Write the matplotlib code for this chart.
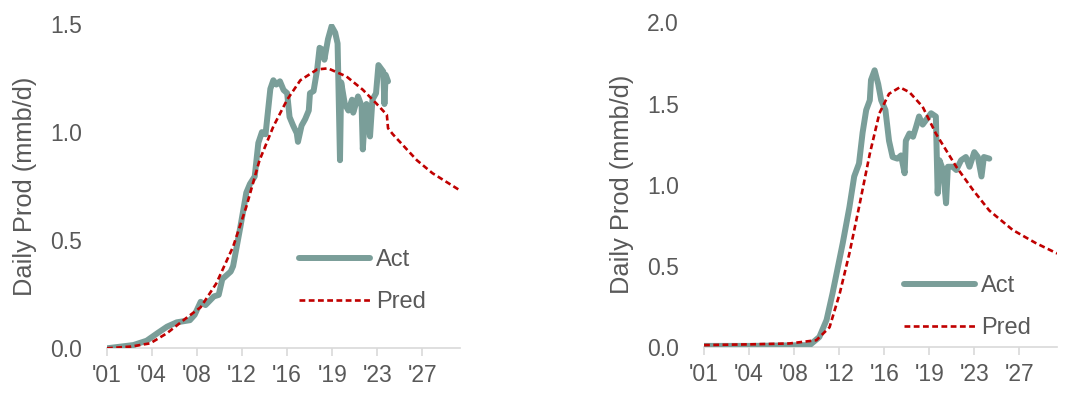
import matplotlib
matplotlib.use("Agg")
import matplotlib.pyplot as plt

# Field A - actual vs predicted daily production (mmb/d)
a_act_year = [2001.0, 2003.2, 2004.3, 2005.2, 2006.0, 2006.8, 2007.9, 2008.3, 2008.8,
              2009.2, 2009.9, 2010.3, 2010.6, 2011.3, 2011.5, 2012.1, 2012.6, 2012.9,
              2013.3, 2013.6, 2013.9, 2014.2, 2014.6, 2014.85, 2015.1, 2015.4, 2015.7,
              2016.0, 2016.2, 2016.5, 2016.8, 2016.9, 2017.2, 2017.5, 2017.8, 2017.9,
              2018.2, 2018.5, 2018.7, 2019.0, 2019.1, 2019.4, 2019.7, 2020.0, 2020.2,
              2020.4, 2020.5, 2020.8, 2021.1, 2021.4, 2021.5, 2021.9, 2022.2, 2022.3,
              2022.5, 2022.6, 2022.9, 2023.1, 2023.4, 2023.6, 2024.0, 2024.1, 2024.2,
              2024.4]
a_act = [0.00, 0.015, 0.035, 0.07, 0.10, 0.12, 0.13, 0.155, 0.215,
         0.20, 0.24, 0.247, 0.32, 0.355, 0.38, 0.56, 0.72, 0.76,
         0.795, 0.95, 1.00, 0.99, 1.20, 1.24, 1.22, 1.235, 1.195,
         1.18, 1.07, 1.03, 0.995, 0.955, 1.03, 1.06, 1.10, 1.18,
         1.19, 1.29, 1.39, 1.38, 1.335, 1.43, 1.49, 1.46, 1.41,
         0.87, 1.23, 1.13, 1.10, 1.15, 1.09, 1.165, 1.12, 0.92,
         1.10, 1.13, 0.98, 1.15, 1.18, 1.31, 1.28, 1.13, 1.265,
         1.235]
a_pred_year = [2001.0, 2003.0, 2004.6, 2006.0, 2007.6, 2008.8, 2010.1, 2011.5, 2012.6,
               2013.7, 2014.85, 2016.0, 2017.1, 2018.5, 2019.4, 2020.95, 2022.3, 2023.4,
               2024.3, 2024.4, 2024.8, 2026.8, 2028.1, 2030.4]
a_pred = [0.0, 0.008, 0.023, 0.07, 0.14, 0.19, 0.30, 0.47, 0.655,
          0.87, 1.026, 1.15, 1.24, 1.29, 1.295, 1.257, 1.196, 1.134,
          1.08, 1.018, 0.99, 0.87, 0.81, 0.73]

# Field B
b_act_year = [2001.0, 2005.0, 2009.8, 2010.6, 2011.2, 2011.7, 2012.55, 2013.1, 2013.5,
              2013.9, 2014.2, 2014.5, 2014.8, 2014.9, 2015.2, 2015.5, 2015.75, 2016.1,
              2016.4, 2016.7, 2017.1, 2017.4, 2017.7, 2017.8, 2018.1, 2018.4, 2018.65,
              2018.9, 2019.2, 2019.5, 2019.9, 2020.3, 2020.45, 2020.6, 2020.9, 2021.15,
              2021.3, 2021.7, 2022.0, 2022.4, 2022.8, 2023.1, 2023.5, 2023.8, 2024.1,
              2024.3, 2024.75]
b_act = [0.005, 0.005, 0.01, 0.06, 0.165, 0.33, 0.64, 0.86, 1.05,
         1.13, 1.32, 1.46, 1.52, 1.645, 1.705, 1.62, 1.52, 1.46,
         1.27, 1.17, 1.16, 1.18, 1.07, 1.27, 1.315, 1.295, 1.355,
         1.42, 1.37, 1.40, 1.44, 1.42, 0.945, 1.15, 1.09, 0.885,
         1.11, 1.11, 1.09, 1.15, 1.17, 1.11, 1.20, 1.17, 1.05,
         1.17, 1.16]
b_pred_year = [2001.0, 2005.0, 2008.1, 2010.35, 2011.45, 2012.3, 2013.1, 2013.9, 2014.8,
               2015.6, 2016.4, 2017.3, 2018.1, 2019.2, 2020.3, 2022.0, 2023.4, 2024.75,
               2026.7, 2028.6, 2030.4]
b_pred = [0.01, 0.015, 0.02, 0.04, 0.12, 0.33, 0.575, 0.86, 1.19,
          1.44, 1.56, 1.60, 1.57, 1.48, 1.315, 1.11, 0.966, 0.84,
          0.72, 0.64, 0.575]

x_ticks = [2001 + 3.75 * k for k in range(8)]
x_tick_labels = ["'01", "'04", "'08", "'12", "'16", "'19", "'23", "'27"]

ACT_COLOR = "#7A9E99"
PRED_COLOR = "#C00000"
TEXT_COLOR = "#595959"
AXIS_COLOR = "#D9D9D9"

plt.rcParams["font.family"] = ["Liberation Sans", "DejaVu Sans"]


def draw_panel(ax, act_x, act_y, pred_x, pred_y, ymax, yticks, legend_pos):
    ax.plot(act_x, act_y, color=ACT_COLOR, lw=4.3, solid_joinstyle="round",
            solid_capstyle="round", label="Act")
    ax.plot(pred_x, pred_y, color=PRED_COLOR, lw=1.9, dashes=(2.2, 1.3), label="Pred")

    ax.set_xlim(2001, 2030.4)
    ax.set_ylim(0, ymax)
    ax.set_xticks(x_ticks)
    ax.set_xticklabels(x_tick_labels)
    ax.set_yticks(yticks)
    ax.set_yticklabels([f"{v:.1f}" for v in yticks])

    for side in ["top", "right", "left"]:
        ax.spines[side].set_visible(False)
    ax.spines["bottom"].set_color(AXIS_COLOR)
    ax.spines["bottom"].set_linewidth(1.2)
    ax.spines["bottom"].set_zorder(0)

    ax.tick_params(axis="x", colors=AXIS_COLOR, length=5.5, width=1.2,
                   labelcolor=TEXT_COLOR, labelsize=16.5, pad=6)
    ax.tick_params(axis="y", length=0, labelcolor=TEXT_COLOR, labelsize=16.5, pad=18)

    ax.set_ylabel("Daily Prod (mmb/d)", fontsize=18.3, color=TEXT_COLOR, va="center")
    ax.yaxis.set_label_coords(-0.231, 0.5)

    ax.legend(loc="upper left", bbox_to_anchor=legend_pos, frameon=False,
              fontsize=17, handlelength=3.0, handletextpad=0.25, labelspacing=0.85,
              borderaxespad=0, labelcolor=TEXT_COLOR)


fig = plt.figure(figsize=(10.7, 3.94), dpi=100)
ax1 = fig.add_axes([0.1, 0.116, 0.33, 0.823])
ax2 = fig.add_axes([0.658, 0.12, 0.33, 0.823])

draw_panel(ax1, a_act_year, a_act, a_pred_year, a_pred, 1.5,
           [0.0, 0.5, 1.0, 1.5], (0.518, 0.335))
draw_panel(ax2, b_act_year, b_act, b_pred_year, b_pred, 2.0,
           [0.0, 0.5, 1.0, 1.5, 2.0], (0.54, 0.25))

fig.savefig("out.png", dpi=100)
